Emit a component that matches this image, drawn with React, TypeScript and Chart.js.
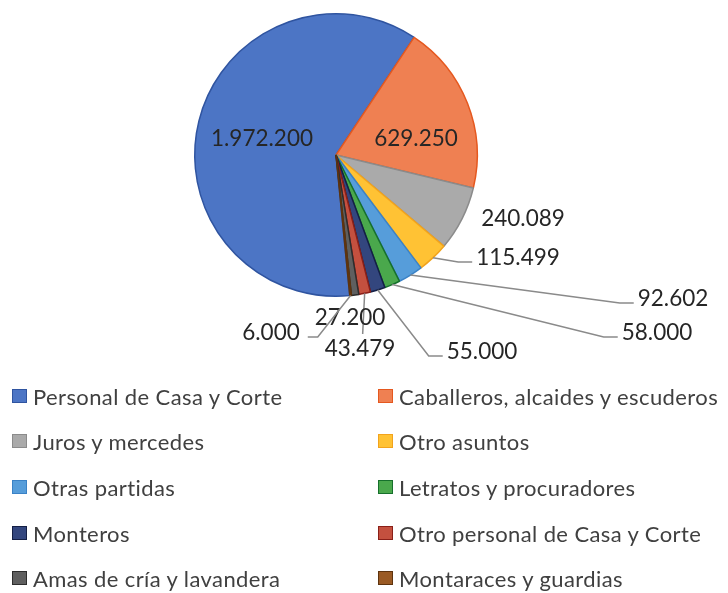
import React, { useEffect, useRef } from "react";
import { Chart, registerables } from "chart.js";

Chart.register(...registerables);

// ---- data ----
const categories = [
  "Personal de Casa y Corte",
  "Caballeros, alcaides y escuderos",
  "Juros y mercedes",
  "Otro asuntos",
  "Otras partidas",
  "Letratos y procuradores",
  "Monteros",
  "Otro personal de Casa y Corte",
  "Amas de cría y lavandera",
  "Montaraces y guardias",
];
const values = [1972200, 629250, 240089, 115499, 92602, 58000, 55000, 43479, 27200, 6000];

// ---- styles ----
const fillColors = [
  "#4c75c5", "#ef8052", "#aaaaaa", "#ffc234", "#569dda",
  "#4aa84c", "#33467e", "#c4503f", "#5f5f5f", "#9a5a24",
];
const borderColors = [
  "#2f54a0", "#e5581f", "#8b8b8b", "#f2a31c", "#3a82c6",
  "#16702c", "#141f45", "#8a1f18", "#2d2d2d", "#5e330e",
];

// label placement relative to the pie centre (px) and leader style
const labelLayout: { dx: number; dy: number; leader: "none" | "left" | "right" | "top" }[] = [
  { dx: -74, dy: -16, leader: "none" },
  { dx: 80, dy: -16, leader: "none" },
  { dx: 187, dy: 64, leader: "none" },
  { dx: 182, dy: 103, leader: "left" },
  { dx: 337, dy: 144, leader: "left" },
  { dx: 321, dy: 178, leader: "left" },
  { dx: 146, dy: 197, leader: "left" },
  { dx: 24, dy: 194, leader: "top" },
  { dx: 14, dy: 163, leader: "none" },
  { dx: -65, dy: 178, leader: "right" },
];

const FONT = "Lato, 'Open Sans', sans-serif";

function fmt(v: number): string {
  return String(v).replace(/\B(?=(\d{3})+(?!\d))/g, ".");
}

const labelPlugin = {
  id: "sliceLabels",
  afterDatasetsDraw(chart: any) {
    const ctx = chart.ctx as CanvasRenderingContext2D;
    const meta = chart.getDatasetMeta(0);
    ctx.save();
    ctx.font = `22.5px ${FONT}`;
    ctx.textAlign = "center";
    ctx.textBaseline = "middle";
    ctx.strokeStyle = "#8a8a8a";
    ctx.lineWidth = 1.5;
    meta.data.forEach((arc: any, i: number) => {
      const { x, y, startAngle, endAngle, outerRadius } = arc.getProps(
        ["x", "y", "startAngle", "endAngle", "outerRadius"],
        true
      );
      const mid = (startAngle + endAngle) / 2;
      const text = fmt(values[i]);
      const lay = labelLayout[i];
      const lx = x + lay.dx;
      const ly = y + lay.dy;
      const w = ctx.measureText(text).width;
      if (lay.leader !== "none") {
        const sx = x + Math.cos(mid) * outerRadius;
        const sy = y + Math.sin(mid) * outerRadius;
        ctx.beginPath();
        ctx.moveTo(sx, sy);
        if (lay.leader === "left") {
          const ex = lx - w / 2 - 4;
          const ey = ly + 4;
          ctx.lineTo(ex - 14, ey);
          ctx.lineTo(ex, ey);
        } else if (lay.leader === "right") {
          const ex = lx + w / 2 + 8;
          const ey = ly + 4;
          ctx.lineTo(ex + 10, ey);
          ctx.lineTo(ex, ey);
        } else {
          ctx.lineTo(sx - 2, ly - 15);
        }
        ctx.stroke();
      }
      ctx.fillStyle = "#262626";
      ctx.fillText(text, lx, ly);
    });
    ctx.restore();
  },
};

export default function App() {
  const canvasRef = useRef<HTMLCanvasElement | null>(null);

  useEffect(() => {
    document.body.style.margin = "0";
    const canvas = canvasRef.current;
    if (!canvas) return;
    const chart = new Chart(canvas, {
      type: "pie",
      data: {
        labels: categories,
        datasets: [
          {
            data: values,
            backgroundColor: fillColors,
            borderColor: borderColors,
            borderWidth: 1.5,
          },
        ],
      },
      options: {
        responsive: false,
        animation: false,
        rotation: 174.4,
        layout: { padding: { left: 194, right: 250, top: 13, bottom: 296 } },
        plugins: {
          legend: { display: false },
          tooltip: { enabled: false },
        },
      },
      plugins: [labelPlugin],
    });
    return () => chart.destroy();
  }, []);

  const rowCenters = [396, 441, 487, 533, 578];

  return (
    <div style={{ position: "relative", width: 728, height: 593, background: "#fff", overflow: "hidden" }}>
      <canvas ref={canvasRef} width={728} height={593} style={{ position: "absolute", left: 0, top: 0 }} />
      {categories.map((c, i) => {
        const col = i % 2;
        const row = Math.floor(i / 2);
        const bx = col === 0 ? 12 : 378;
        const cy = rowCenters[row];
        return (
          <div
            key={c}
            style={{
              position: "absolute",
              left: bx,
              top: cy - 15,
              height: 30,
              display: "flex",
              alignItems: "center",
              whiteSpace: "nowrap",
              fontFamily: FONT,
              fontSize: 22,
              letterSpacing: "0.4px",
              color: "#404040",
            }}
          >
            <span
              style={{
                display: "inline-block",
                width: 13,
                height: 12,
                background: fillColors[i],
                border: `1px solid ${borderColors[i]}`,
                marginRight: 6,
              }}
            />
            <span>{c}</span>
          </div>
        );
      })}
    </div>
  );
}
